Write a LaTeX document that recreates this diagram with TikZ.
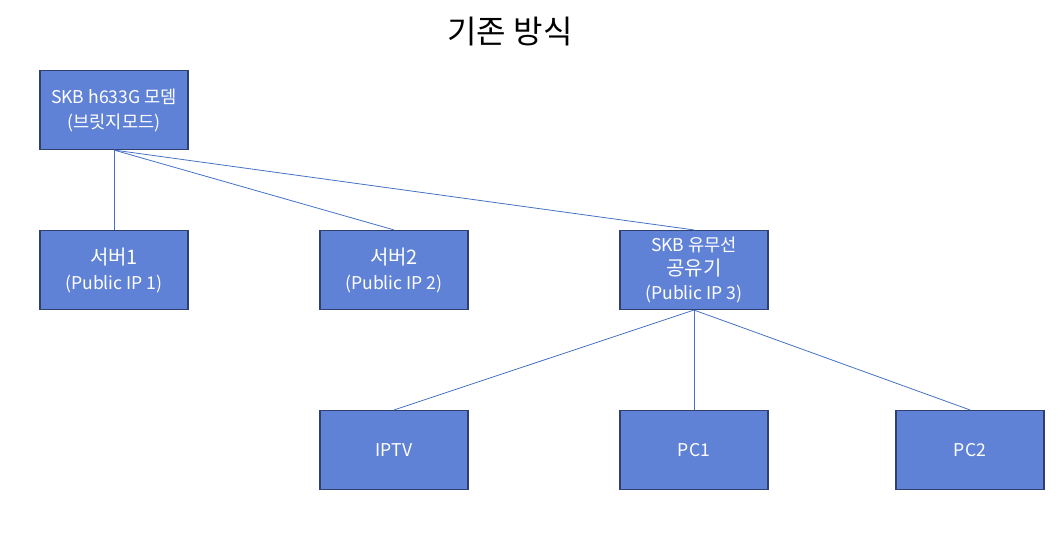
\documentclass[tikz,border=0pt]{standalone}
\usepackage{fontspec}
\setmainfont{Noto Sans CJK KR}
\usepackage{xcolor}
\definecolor{boxfill}{HTML}{6082D6}
\definecolor{boxline}{HTML}{2F3F6E}
\definecolor{wire}{HTML}{4472C4}
\usetikzlibrary{positioning}

\begin{document}
\begin{tikzpicture}[x=0.75pt, y=-0.75pt,
  every node/.style={font=\fontsize{13.2}{18.7}\selectfont},
  dev/.style={draw=boxline, line width=1.1pt, fill=boxfill, text=white,
              minimum width=111pt, minimum height=59pt, inner sep=2pt,
              align=center},
  link/.style={draw=wire, line width=0.6pt}
]
\useasboundingbox (0,0) rectangle (1060,545);
\node[font=\fontsize{24}{28}\selectfont] (title) at (510,32) {기존 방식};

\node[dev] (modem) at (114,110) {SKB h633G 모뎀\\(브릿지모드)};
\node[dev] (srv1)  at (114,270) {{\fontsize{15}{18.7}\selectfont 서버1}\\(Public IP 1)};
\node[dev] (srv2)  at (394,270) {{\fontsize{15}{18.7}\selectfont 서버2}\\(Public IP 2)};
\node[dev, font=\fontsize{13.2}{18.2}\selectfont] (rtr) at (694,270)
  {SKB 유무선\\{\fontsize{15}{18.2}\selectfont 공유기}\\(Public IP 3)};
\node[dev] (iptv)  at (394,450) {IPTV};
\node[dev] (pc1)   at (694,450) {PC1};
\node[dev] (pc2)   at (970,450) {PC2};

\foreach \t in {srv1, srv2, rtr}
  \draw[link] (modem.south) -- (\t.north);
\foreach \t in {iptv, pc1, pc2}
  \draw[link] (rtr.south) -- (\t.north);
\end{tikzpicture}
\end{document}
